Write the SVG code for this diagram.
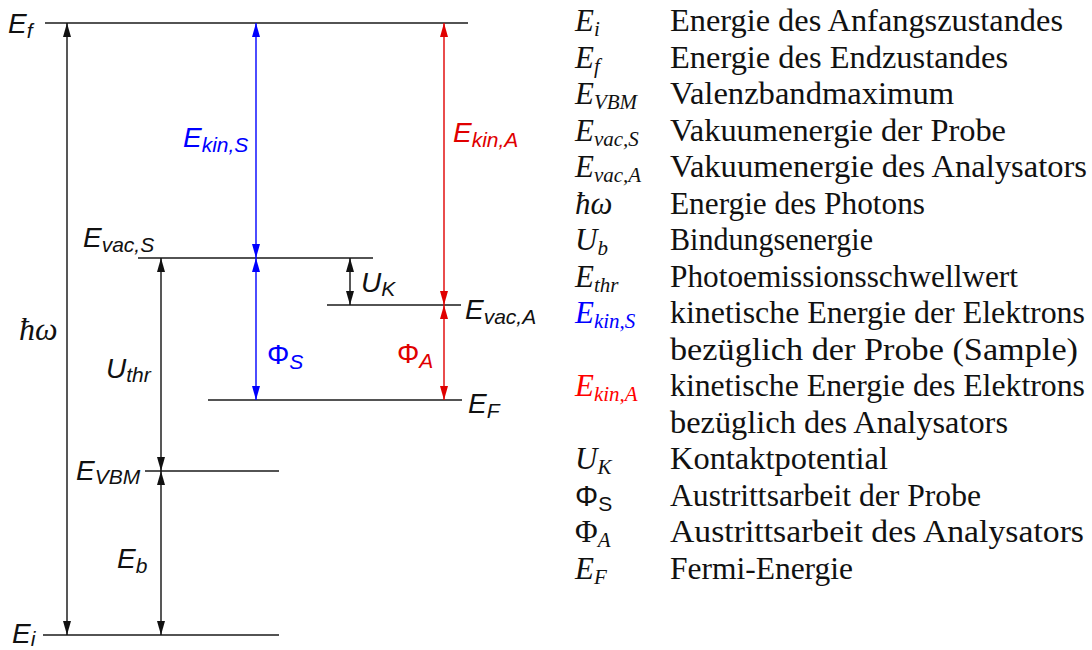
<svg xmlns="http://www.w3.org/2000/svg" width="1092" height="650" viewBox="0 0 1092 650">
<style>
.lvl{stroke:#1a1a1a;stroke-width:1.5;fill:none}
.arr{stroke-width:1.4;fill:none}
.k{stroke:#111}
.b{stroke:#0000ff}
.r{stroke:#e00000}
.lab{font-family:"Liberation Sans",Arial,sans-serif;font-style:italic;font-size:28px;fill:#111}
.up{font-style:normal}
.sub{font-size:21px}
.sym{font-family:"Liberation Serif","Times New Roman",serif;font-style:italic;font-size:31px;fill:#111}
.ssub{font-size:21px}
.desc{font-family:"Liberation Serif","Times New Roman",serif;font-size:31px;fill:#111}
</style>
<defs>
<marker id="ak" viewBox="0 0 14 8" refX="14" refY="4" markerWidth="14" markerHeight="8" markerUnits="userSpaceOnUse" orient="auto-start-reverse"><path d="M0,0 L14,4 L0,8 z" fill="#111"/></marker>
<marker id="ab" viewBox="0 0 14 8" refX="14" refY="4" markerWidth="14" markerHeight="8" markerUnits="userSpaceOnUse" orient="auto-start-reverse"><path d="M0,0 L14,4 L0,8 z" fill="#0000ff"/></marker>
<marker id="ar" viewBox="0 0 14 8" refX="14" refY="4" markerWidth="14" markerHeight="8" markerUnits="userSpaceOnUse" orient="auto-start-reverse"><path d="M0,0 L14,4 L0,8 z" fill="#e00000"/></marker>
</defs>
<g id="levels">
<g id="Ef"><line class="lvl" x1="45" y1="23" x2="468" y2="23"/><text class="lab" x="8" y="33">E<tspan class="sub" dy="5">f</tspan></text></g>
<g id="EvacS"><line class="lvl" x1="138" y1="258" x2="373" y2="258"/><text class="lab" x="83" y="247">E<tspan class="sub" dy="5">vac,S</tspan></text></g>
<g id="EvacA"><line class="lvl" x1="327" y1="305" x2="461" y2="305"/><text class="lab" x="465" y="319">E<tspan class="sub" dy="5">vac,A</tspan></text></g>
<g id="EF"><line class="lvl" x1="208" y1="400" x2="462" y2="400"/><text class="lab" x="468" y="413">E<tspan class="sub" dy="5">F</tspan></text></g>
<g id="EVBM"><line class="lvl" x1="145" y1="471" x2="279" y2="471"/><text class="lab" x="76" y="480">E<tspan class="sub" dy="4">VBM</tspan></text></g>
<g id="Ei"><line class="lvl" x1="43" y1="635" x2="279" y2="635"/><text class="lab" x="12" y="643">E<tspan class="sub" dy="3">i</tspan></text></g>
</g>
<g id="connectors">
<line class="arr k" x1="67" y1="23" x2="67" y2="635" marker-start="url(#ak)" marker-end="url(#ak)"/>
<line class="arr k" x1="161" y1="258" x2="161" y2="471" marker-start="url(#ak)" marker-end="url(#ak)"/>
<line class="arr k" x1="161" y1="471" x2="161" y2="635" marker-start="url(#ak)" marker-end="url(#ak)"/>
<line class="arr b" x1="256" y1="23" x2="256" y2="258" marker-start="url(#ab)" marker-end="url(#ab)"/>
<line class="arr b" x1="256" y1="258" x2="256" y2="400" marker-start="url(#ab)" marker-end="url(#ab)"/>
<line class="arr r" x1="444" y1="23" x2="444" y2="305" marker-start="url(#ar)" marker-end="url(#ar)"/>
<line class="arr r" x1="444" y1="305" x2="444" y2="400" marker-start="url(#ar)" marker-end="url(#ar)"/>
<line class="arr k" x1="350" y1="258" x2="350" y2="305" marker-start="url(#ak)" marker-end="url(#ak)"/>
</g>
<g id="arrow-labels">
<text class="sym" x="19" y="340" style="font-size:32px">ħω</text>
<text class="lab" x="106" y="378">U<tspan class="sub" dy="4">thr</tspan></text>
<text class="lab" x="117" y="568">E<tspan class="sub" dy="5">b</tspan></text>
<text class="lab" x="183" y="147" style="fill:#0000ff">E<tspan class="sub" dy="5">kin,S</tspan></text>
<text class="lab" x="453" y="142" style="fill:#e00000">E<tspan class="sub" dy="5">kin,A</tspan></text>
<text class="lab up" x="267" y="364" style="fill:#0000ff">Φ<tspan class="sub" style="font-style:italic" dy="5">S</tspan></text>
<text class="lab up" x="397" y="363" style="fill:#e00000">Φ<tspan class="sub" style="font-style:italic" dy="5">A</tspan></text>
<text class="lab" x="361" y="292">U<tspan class="sub" dy="4">K</tspan></text>
</g>
<g id="legend">
<text class="sym" x="575" y="31">E<tspan class="ssub" dy="5">i</tspan></text>
<text class="desc" x="670" y="31" textLength="393" lengthAdjust="spacingAndGlyphs">Energie des Anfangszustandes</text>
<text class="sym" x="575" y="67.5">E<tspan class="ssub" dy="5">f</tspan></text>
<text class="desc" x="670" y="67.5" textLength="338" lengthAdjust="spacingAndGlyphs">Energie des Endzustandes</text>
<text class="sym" x="575" y="104">E<tspan class="ssub" dy="5">VBM</tspan></text>
<text class="desc" x="670" y="104" textLength="284" lengthAdjust="spacingAndGlyphs">Valenzbandmaximum</text>
<text class="sym" x="575" y="140.5">E<tspan class="ssub" dy="5">vac,S</tspan></text>
<text class="desc" x="670" y="140.5" textLength="336" lengthAdjust="spacingAndGlyphs">Vakuumenergie der Probe</text>
<text class="sym" x="575" y="177">E<tspan class="ssub" dy="5">vac,A</tspan></text>
<text class="desc" x="670" y="177" textLength="417" lengthAdjust="spacingAndGlyphs">Vakuumenergie des Analysators</text>
<text class="sym" x="575" y="213.5">ħω</text>
<text class="desc" x="670" y="213.5" textLength="255" lengthAdjust="spacingAndGlyphs">Energie des Photons</text>
<text class="sym" x="575" y="250">U<tspan class="ssub" dy="5">b</tspan></text>
<text class="desc" x="670" y="250" textLength="203" lengthAdjust="spacingAndGlyphs">Bindungsenergie</text>
<text class="sym" x="575" y="286.5">E<tspan class="ssub" dy="5">thr</tspan></text>
<text class="desc" x="670" y="286.5" textLength="348" lengthAdjust="spacingAndGlyphs">Photoemissionsschwellwert</text>
<text class="sym" x="575" y="323" style="fill:#0000ff">E<tspan class="ssub" dy="5">kin,S</tspan></text>
<text class="desc" x="670" y="323" textLength="415" lengthAdjust="spacingAndGlyphs">kinetische Energie der Elektrons</text>
<text class="desc" x="670" y="359.5" textLength="408" lengthAdjust="spacingAndGlyphs">bezüglich der Probe (Sample)</text>
<text class="sym" x="575" y="396" style="fill:#ff0000">E<tspan class="ssub" dy="5">kin,A</tspan></text>
<text class="desc" x="670" y="396" textLength="415" lengthAdjust="spacingAndGlyphs">kinetische Energie des Elektrons</text>
<text class="desc" x="670" y="432.5" textLength="338" lengthAdjust="spacingAndGlyphs">bezüglich des Analysators</text>
<text class="sym" x="575" y="469">U<tspan class="ssub" dy="5">K</tspan></text>
<text class="desc" x="670" y="469" textLength="218" lengthAdjust="spacingAndGlyphs">Kontaktpotential</text>
<text class="lab up" x="575" y="505.5" style="font-size:29px">Φ<tspan class="sub" dy="5">S</tspan></text>
<text class="desc" x="670" y="505.5" textLength="311" lengthAdjust="spacingAndGlyphs">Austrittsarbeit der Probe</text>
<text class="sym" x="575" y="542"><tspan style="font-style:normal">Φ</tspan><tspan class="ssub" dy="5">A</tspan></text>
<text class="desc" x="670" y="542" textLength="414" lengthAdjust="spacingAndGlyphs">Austrittsarbeit des Analysators</text>
<text class="sym" x="575" y="578.5">E<tspan class="ssub" dy="5">F</tspan></text>
<text class="desc" x="670" y="578.5" textLength="183" lengthAdjust="spacingAndGlyphs">Fermi-Energie</text>
</g>
</svg>
